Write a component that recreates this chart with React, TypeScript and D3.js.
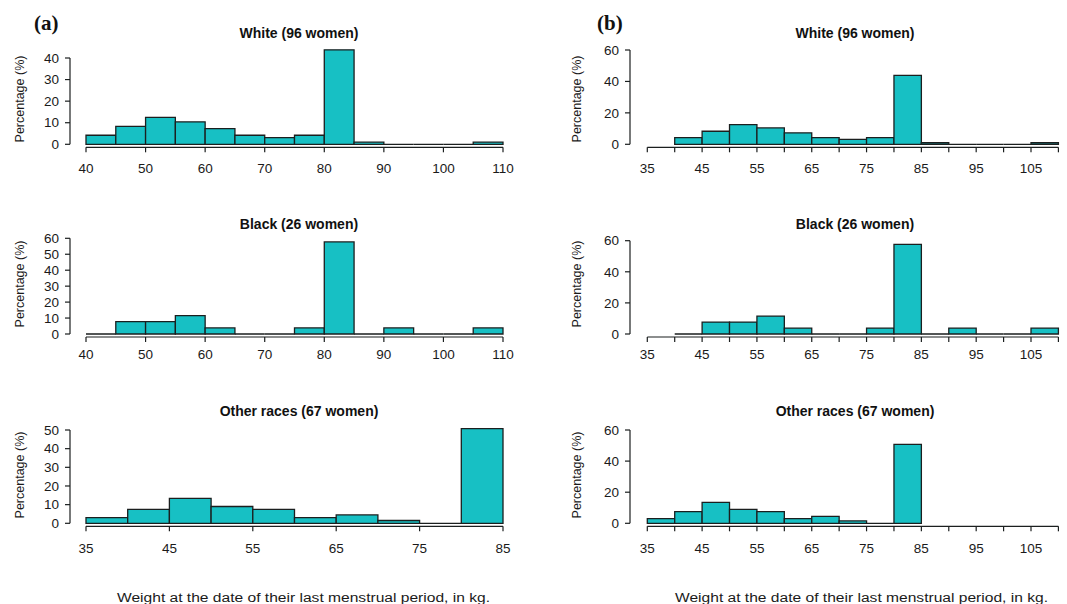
import React from 'react';
import * as d3 from 'd3';

// ---- data (percentages) ----
const whiteEdges = [40, 45, 50, 55, 60, 65, 70, 75, 80, 85, 90, 95, 100, 105, 110];
const whitePct = [4.2, 8.3, 12.5, 10.4, 7.3, 4.2, 3.1, 4.2, 43.8, 1.0, 0, 0, 0, 1.0];
const blackEdges = [40, 45, 50, 55, 60, 65, 70, 75, 80, 85, 90, 95, 100, 105, 110];
const blackPct = [0, 7.7, 7.7, 11.5, 3.8, 0, 0, 3.8, 57.7, 0, 3.8, 0, 0, 3.8];
const otherEdges = [35, 40, 45, 50, 55, 60, 65, 70, 75, 80, 85];
const otherPct = [3.0, 7.5, 13.4, 9.0, 7.5, 3.0, 4.5, 1.5, 0, 50.7];

const titles = ['White (96 women)', 'Black (26 women)', 'Other races (67 women)'];

const aXDomains = [[40, 110], [40, 110], [35, 85]];
const aXTicks = [
  [40, 50, 60, 70, 80, 90, 100, 110],
  [40, 50, 60, 70, 80, 90, 100, 110],
  [35, 45, 55, 65, 75, 85],
];
const aYTicks = [[0, 10, 20, 30, 40], [0, 10, 20, 30, 40, 50, 60], [0, 10, 20, 30, 40, 50]];

const bXDomain = [35, 105];
const bXTicks = [35, 40, 45, 50, 55, 60, 65, 70, 75, 80, 85, 90, 95, 100, 105, 110];
const bXLabels = [35, 45, 55, 65, 75, 85, 95, 105];
const bYTicks = [0, 20, 40, 60];

const xLabelText = 'Weight at the date of their last menstrual period, in kg.';
const yLabelText = 'Percentage (%)';

const series = [
  { edges: whiteEdges, pct: whitePct },
  { edges: blackEdges, pct: blackPct },
  { edges: otherEdges, pct: otherPct },
];

// ---- layout ----
const W = 1067;
const H = 604;
const FILL = '#17c0c4';
const STROKE = '#1b1f1f';
const TEXT = '#1a1a1a';
const rowZero = [144.3, 334, 523.3];
const rowTopA = [58, 238.3, 430];
const rowTopB = [50, 240.7, 430];
const rowTickLabelY = [168, 354, 548];
const rowTitleY = [38, 229, 416];
const rowYLabelY = [99, 284, 475];

type PanelProps = {
  row: number;
  col: number;
};

function Panel({ row, col }: PanelProps) {
  const { edges, pct } = series[row];
  const isA = col === 0;
  const x = isA
    ? d3.scaleLinear().domain(aXDomains[row]).range([86, 503])
    : d3.scaleLinear().domain(bXDomain).range([647.3, 1031]);
  const yTicks = isA ? aYTicks[row] : bYTicks;
  const yMax = yTicks[yTicks.length - 1];
  const y = d3
    .scaleLinear()
    .domain([0, yMax])
    .range([rowZero[row], isA ? rowTopA[row] : rowTopB[row]]);
  const axisX = isA ? 70 : 630;
  const xAxisY = rowZero[row] + 3;
  const xt = isA ? aXTicks[row] : bXTicks;
  const xl = isA ? aXTicks[row] : bXLabels;
  const yLabelX = isA ? 20 : 577;
  const titleX = isA ? 299 : 855;

  return (
    <g>
      {/* bars */}
      {pct.map((v, i) => {
        const x0 = x(edges[i]);
        const x1 = x(edges[i + 1]);
        const y0 = y(0);
        const yv = y(v);
        const p = d3.path();
        p.moveTo(x0, y0);
        p.lineTo(x0, yv);
        p.lineTo(x1, yv);
        p.lineTo(x1, y0);
        p.closePath();
        return (
          <path
            key={i}
            d={p.toString()}
            fill={v > 0 ? FILL : 'none'}
            stroke={STROKE}
            strokeWidth={1.3}
            strokeLinejoin="miter"
          />
        );
      })}
      {/* x axis */}
      <line
        x1={x(xt[0])}
        x2={x(xt[xt.length - 1])}
        y1={xAxisY}
        y2={xAxisY}
        stroke={STROKE}
        strokeWidth={1.2}
      />
      {xt.map((t) => (
        <line key={'xt' + t} x1={x(t)} x2={x(t)} y1={xAxisY} y2={xAxisY + 5} stroke={STROKE} strokeWidth={1.2} />
      ))}
      {xl.map((t) => (
        <text
          key={'xl' + t}
          x={x(t)}
          y={rowTickLabelY[row]}
          dy="0.35em"
          textAnchor="middle"
          fontSize={13.5}
          fill={TEXT}
        >
          {t}
        </text>
      ))}
      {/* y axis */}
      <line x1={axisX} x2={axisX} y1={y(0)} y2={y(yMax)} stroke={STROKE} strokeWidth={1.2} />
      {yTicks.map((t) => (
        <g key={'yt' + t}>
          <line x1={axisX - 5} x2={axisX} y1={y(t)} y2={y(t)} stroke={STROKE} strokeWidth={1.2} />
          <text x={axisX - 11} y={y(t)} dy="0.35em" textAnchor="end" fontSize={13.5} fill={TEXT}>
            {t}
          </text>
        </g>
      ))}
      <text
        transform={`translate(${yLabelX},${rowYLabelY[row]}) rotate(-90)`}
        textAnchor="middle"
        dy="0.35em"
        fontSize={12.5}
        fill={TEXT}
      >
        {yLabelText}
      </text>
      {/* title */}
      <text x={titleX} y={rowTitleY[row]} textAnchor="middle" fontSize={14} fontWeight="bold" fill="#111">
        {titles[row]}
      </text>
    </g>
  );
}

export default function App() {
  return (
    <svg
      width={W}
      height={H}
      viewBox={`0 0 ${W} ${H}`}
      style={{ position: 'absolute', left: 0, top: 0, background: '#fff' }}
      fontFamily="'Liberation Sans', Arial, Helvetica, sans-serif"
    >
      <rect x={0} y={0} width={W} height={H} fill="#fff" />
      {[0, 1, 2].map((r) => (
        <React.Fragment key={r}>
          <Panel row={r} col={0} />
          <Panel row={r} col={1} />
        </React.Fragment>
      ))}
      <text x={34} y={30} fontFamily="'Liberation Serif', 'Times New Roman', serif" fontWeight="bold" fontSize={21} fill="#111">
        (a)
      </text>
      <text x={597} y={30} fontFamily="'Liberation Serif', 'Times New Roman', serif" fontWeight="bold" fontSize={21} fill="#111">
        (b)
      </text>
      <text x={117} y={602} fontSize={12} fill={TEXT} textLength={373} lengthAdjust="spacingAndGlyphs">
        {xLabelText}
      </text>
      <text x={675} y={602} fontSize={12} fill={TEXT} textLength={373} lengthAdjust="spacingAndGlyphs">
        {xLabelText}
      </text>
    </svg>
  );
}
